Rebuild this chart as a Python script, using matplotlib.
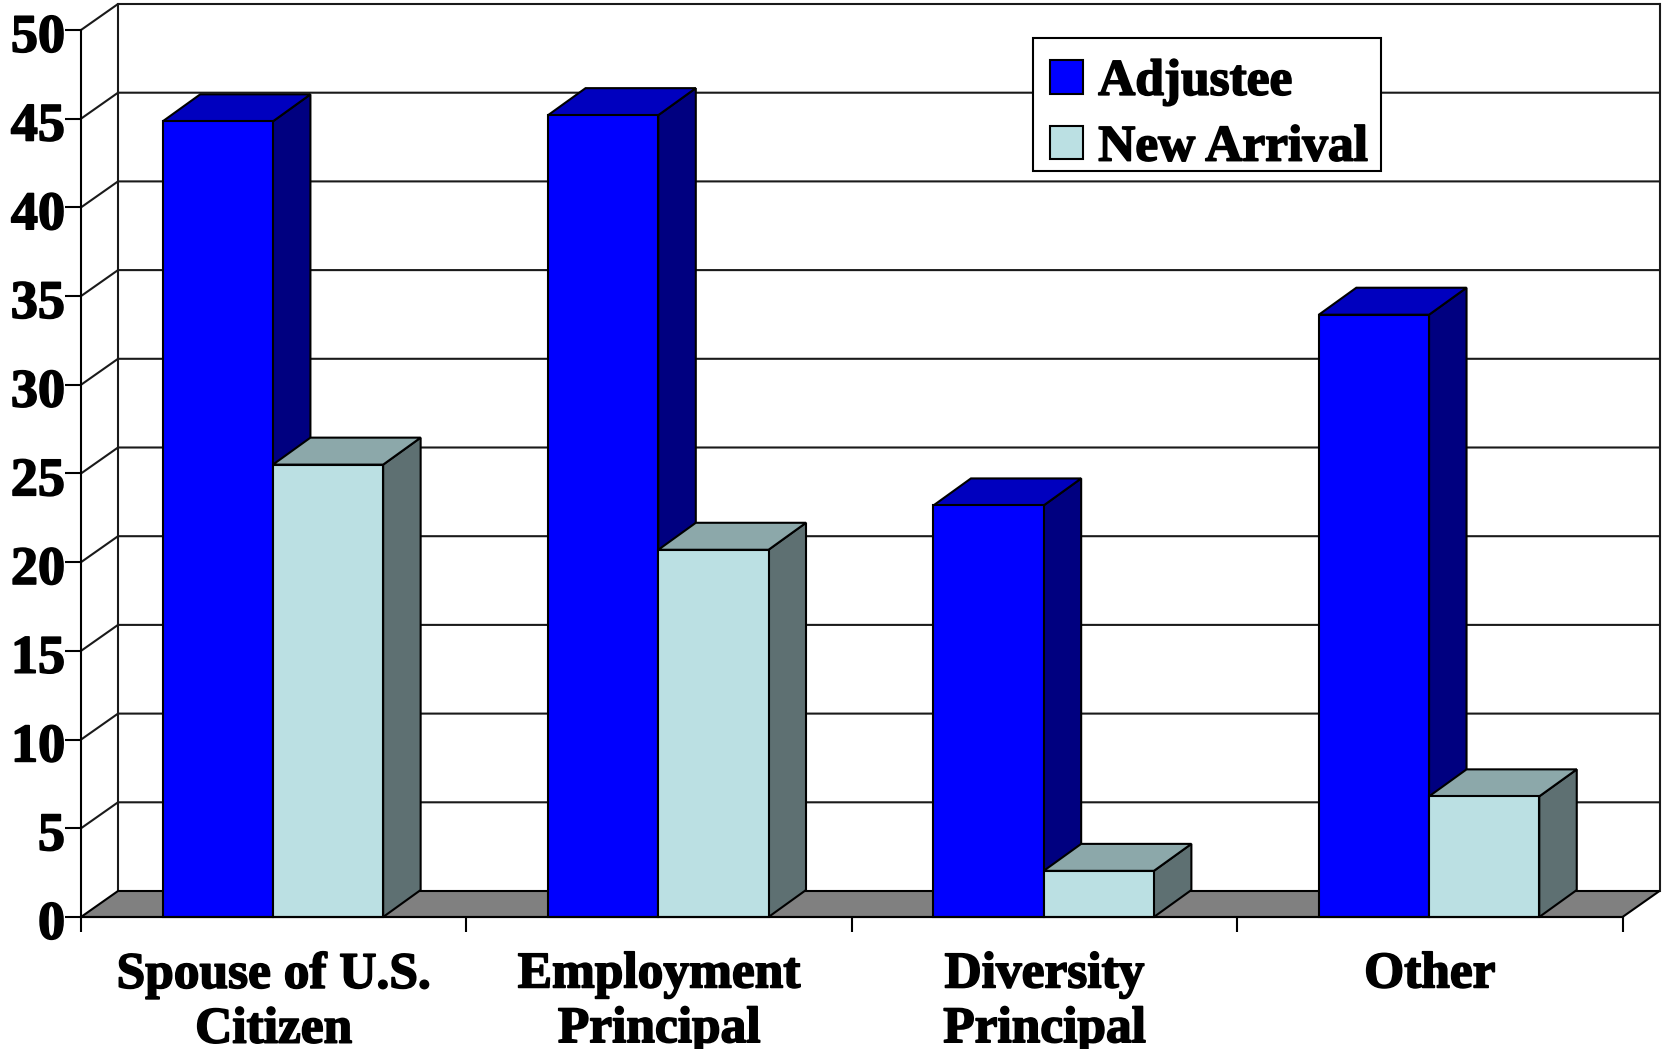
import numpy as np
from matplotlib import pyplot as plt
from matplotlib.patches import Polygon, Patch, Rectangle
from matplotlib.transforms import ScaledTranslation
import matplotlib.patheffects as pe

# values
categories = ["Spouse of U.S.\nCitizen", "Employment\nPrincipal", "Diversity\nPrincipal", "Other"]
adjustee = [44.85, 45.2, 23.2, 33.95]
new_arrival = [25.5, 20.7, 2.6, 6.8]
yticks = [0, 5, 10, 15, 20, 25, 30, 35, 40, 45, 50]

W, H = 1668, 1049
left, right, top, bottom = 81, 1622.5, 30, 917
bar_w = 0.286

plt.rcParams['font.family'] = ['Liberation Serif']
plt.rcParams['font.weight'] = 'bold'
plt.rcParams['font.size'] = 37

fig = plt.figure(figsize=(W / 100, H / 100), dpi=100)
ax = fig.add_axes([left / W, (H - bottom) / H, (right - left) / W, (bottom - top) / H])
ax.set_xlim(0, 4)
ax.set_ylim(0, 50)
ax.patch.set_visible(False)

# depth of the fake 3d box, in data units
dx = 37 / ((right - left) / 4)
dy = 26 / ((bottom - top) / 50)
bar_dx = 37.5 / ((right - left) / 4)
bar_dy = 27 / ((bottom - top) / 50)


def add_poly(pts, color):
    ax.add_patch(Polygon(pts, closed=True, facecolor=color, edgecolor='black',
                         linewidth=1.5, clip_on=False, joinstyle='miter'))


def add_bar(x, val, front, top_c, side):
    add_poly([(x + bar_w, 0), (x + bar_w + bar_dx, bar_dy), (x + bar_w + bar_dx, val + bar_dy), (x + bar_w, val)], side)
    add_poly([(x, val), (x + bar_dx, val + bar_dy), (x + bar_w + bar_dx, val + bar_dy), (x + bar_w, val)], top_c)
    add_poly([(x, 0), (x + bar_w, 0), (x + bar_w, val), (x, val)], front)


# walls and grid
for t in yticks[1:]:
    ax.plot([0, dx, 4 + dx], [t, t + dy, t + dy], color='#1a1a1a', lw=1.5, clip_on=False, zorder=0.5)
ax.plot([dx, dx], [dy, 50 + dy], color='#1a1a1a', lw=1.5, clip_on=False, zorder=0.5)
ax.plot([4 + dx, 4 + dx], [dy, 50 + dy], color='#1a1a1a', lw=1.5, clip_on=False, zorder=0.5)
add_poly([(0, 0), (dx, dy), (4 + dx, dy), (4, 0)], '#808080')

for i in range(4):
    c = i + 0.498
    add_bar(c - bar_w, adjustee[i], '#0000FF', '#0000BF', '#000080')
    add_bar(c, new_arrival[i], '#BBE0E3', '#8CA8AA', '#5E7072')

for s in ['top', 'right']:
    ax.spines[s].set_visible(False)
for s in ['left', 'bottom']:
    ax.spines[s].set_linewidth(1.5)

ax.set_yticks(yticks)
ax.set_xticks([0, 1, 2, 3, 4])
ax.set_xticklabels([])
ax.set_xticks([0.5, 1.5, 2.5, 3.5], labels=categories, minor=True)
ax.tick_params(axis='y', length=11.5, width=1.5, pad=0, labelsize=39)
ax.tick_params(axis='x', which='major', length=11, width=1.5)
ax.tick_params(axis='x', which='minor', length=0, pad=25.5)

stroke = [pe.withStroke(linewidth=1.2, foreground='black')]
for lab in ax.get_xticklabels(minor=True):
    lab.set_linespacing(1.25)
    lab.set_path_effects(stroke)
down = ScaledTranslation(0, -2 / 72, fig.dpi_scale_trans)
for lab in ax.get_yticklabels():
    lab.set_path_effects(stroke)
    lab.set_transform(lab.get_transform() + down)

# legend box is drawn by hand, the rows sit lower in it than a legend frame allows
fig.add_artist(Rectangle((1033 / W, 1 - 171 / H), 348 / W, 133 / H, transform=fig.transFigure,
                         facecolor='white', edgecolor='black', linewidth=1.5, zorder=9))
handles = [Patch(facecolor='#0000FF', edgecolor='black', linewidth=1.5, label='Adjustee'),
           Patch(facecolor='#BBE0E3', edgecolor='black', linewidth=1.5, label='New Arrival')]
leg = fig.legend(handles=handles, loc='upper left', bbox_to_anchor=(1035 / W, 1 - 44.4 / H),
                 bbox_transform=fig.transFigure, frameon=False,
                 handlelength=0.63, handleheight=0.63, handletextpad=0.3, labelspacing=0.385,
                 borderpad=0.3, borderaxespad=0)
leg.set_zorder(10)
for t in leg.get_texts():
    t.set_path_effects(stroke)

fig.savefig('out.png', dpi=100)
